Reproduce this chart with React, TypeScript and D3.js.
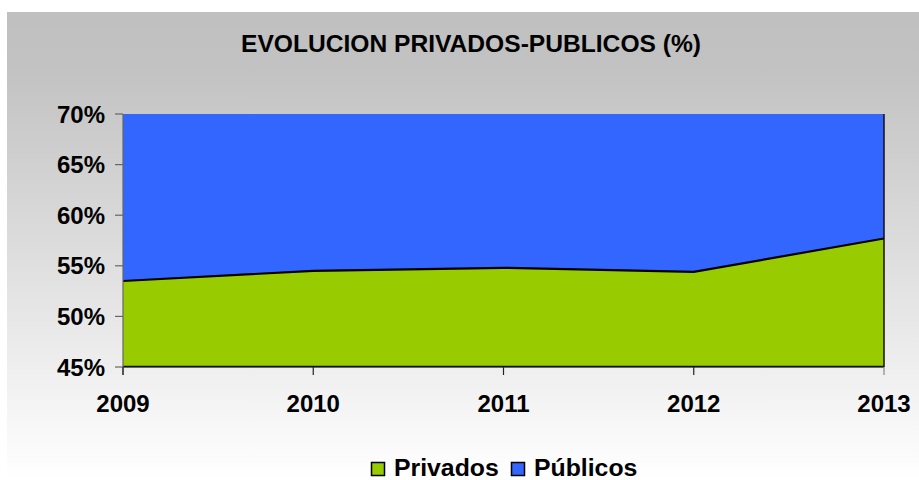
import React from "react";
import * as d3 from "d3";

const years = ["2009", "2010", "2011", "2012", "2013"];
const privados = [53.5, 54.5, 54.8, 54.4, 57.7];
const publicos = [46.5, 45.5, 45.2, 45.6, 42.3];
const yTicks = [45, 50, 55, 60, 65, 70];
const title = "EVOLUCION PRIVADOS-PUBLICOS (%)";
const seriesNames = ["Privados", "Públicos"];
const colors = ["#99cc00", "#3366ff"];

export default function App() {
  const W = 919, H = 480;
  const left = 123, right = 884, top = 114, bottom = 367;
  const x = d3.scalePoint<string>().domain(years).range([left, right]);
  const y = d3.scaleLinear().domain([45, 70]).range([bottom, top]);

  const rows = years.map((yr, i) => ({ yr, Privados: privados[i], Públicos: publicos[i] }));
  const stack = d3.stack<any>().keys(seriesNames).offset(d3.stackOffsetNone);
  const series = stack(rows);

  const area = d3
    .area<any>()
    .x((d) => x(d.data.yr)!)
    .y0((d) => y(Math.max(d[0], 0) < 45 ? 45 : d[0]))
    .y1((d) => y(d[1]));

  const line = d3
    .line<any>()
    .x((d) => x(d.data.yr)!)
    .y((d) => y(d[1]));

  const font = "'Liberation Sans', Arial, sans-serif";

  return (
    <svg width={W} height={H} style={{ position: "absolute", left: 0, top: 0 }}>
      <defs>
        <linearGradient id="bg" x1="0" y1="0" x2="0" y2="1">
          <stop offset="0" stopColor="#c0c0c0" />
          <stop offset="0.12" stopColor="#c2c2c2" />
          <stop offset="1" stopColor="#ffffff" />
        </linearGradient>
        <clipPath id="plot">
          <rect x={left} y={top} width={right - left} height={bottom - top} />
        </clipPath>
      </defs>
      <rect x={0} y={0} width={W} height={H} fill="#ffffff" />
      <rect x={7} y={12} width={W - 7} height={H - 12} fill="url(#bg)" />
      <text
        x={471}
        y={52}
        textAnchor="middle"
        fontFamily={font}
        fontWeight="bold"
        fontSize={24.6}
        fill="#000"
      >
        {title}
      </text>

      <g clipPath="url(#plot)">
        {series.map((s, i) => (
          <path key={s.key} d={area(s as any)!} fill={colors[i]} />
        ))}
        <path d={line(series[0] as any)!} fill="none" stroke="#000" strokeWidth={2.2} />
      </g>

      {/* right border and bottom line */}
      <line x1={right} x2={right} y1={top} y2={bottom} stroke="#111" strokeWidth={1.5} />
      <line x1={left} x2={right} y1={bottom - 0.5} y2={bottom - 0.5} stroke="#111" strokeWidth={1.5} />

      {/* y axis */}
      <line x1={left} x2={left} y1={top} y2={bottom + 8} stroke="#666" strokeWidth={1.2} />
      {yTicks.map((t) => (
        <g key={t}>
          <line x1={left - 8} x2={left} y1={y(t)} y2={y(t)} stroke="#666" strokeWidth={1.2} />
          <text
            x={105}
            y={y(t)}
            dy="0.36em"
            textAnchor="end"
            fontFamily={font}
            fontWeight="bold"
            fontSize={24}
            fill="#000"
          >
            {t}%
          </text>
        </g>
      ))}

      {/* x axis */}
      <line x1={left} x2={right} y1={bottom + 0.5} y2={bottom + 0.5} stroke="#666" strokeWidth={1} />
      {years.map((yr) => (
        <g key={yr}>
          <line x1={x(yr)!} x2={x(yr)!} y1={bottom} y2={bottom + 8} stroke={yr === "2013" ? "#888" : "#222"} strokeWidth={1.2} />
          <text
            x={x(yr)!}
            y={412}
            textAnchor="middle"
            fontFamily={font}
            fontWeight="bold"
            fontSize={24}
            fill="#000"
          >
            {yr}
          </text>
        </g>
      ))}

      {/* legend */}
      {seriesNames.map((n, i) => {
        const lx = i === 0 ? 371 : 511;
        return (
          <g key={n}>
            <rect x={lx + 0.5} y={462.5} width={13} height={13} fill={colors[i]} stroke="#000" strokeWidth={1.5} />
            <text
              x={lx + 23}
              y={476}
              fontFamily={font}
              fontWeight="bold"
              fontSize={24.8}
              fill="#000"
            >
              {n}
            </text>
          </g>
        );
      })}
    </svg>
  );
}
